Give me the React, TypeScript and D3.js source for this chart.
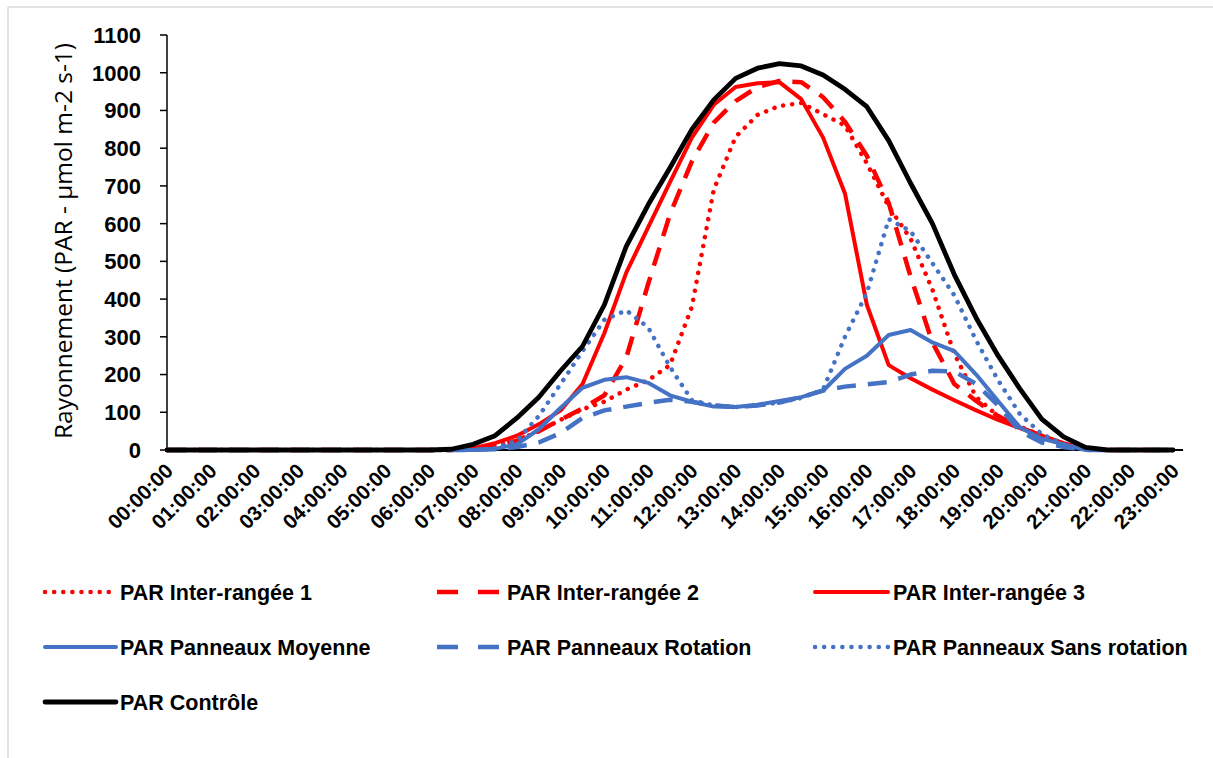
import React, { useEffect } from "react";
import * as d3 from "d3";

const hourLabels = [
  "00:00:00", "01:00:00", "02:00:00", "03:00:00", "04:00:00", "05:00:00",
  "06:00:00", "07:00:00", "08:00:00", "09:00:00", "10:00:00", "11:00:00",
  "12:00:00", "13:00:00", "14:00:00", "15:00:00", "16:00:00", "17:00:00",
  "18:00:00", "19:00:00", "20:00:00", "21:00:00", "22:00:00", "23:00:00",
];

const sampleTimes = [
  "00:00", "00:30", "01:00", "01:30", "02:00", "02:30", "03:00", "03:30",
  "04:00", "04:30", "05:00", "05:30", "06:00", "06:30", "07:00", "07:30",
  "08:00", "08:30", "09:00", "09:30", "10:00", "10:30", "11:00", "11:30",
  "12:00", "12:30", "13:00", "13:30", "14:00", "14:30", "15:00", "15:30",
  "16:00", "16:30", "17:00", "17:30", "18:00", "18:30", "19:00", "19:30",
  "20:00", "20:30", "21:00", "21:30", "22:00", "22:30", "23:00",
];

const yTicks = [0, 100, 200, 300, 400, 500, 600, 700, 800, 900, 1000, 1100];

// PAR Inter-rangée 1
const interRangee1 = [
  0, 0, 0, 0, 0, 0, 0, 0, 0, 0, 0, 0, 0, 0, 3, 10,
  25, 50, 80, 108, 128, 160, 185, 225, 380, 690, 830, 888, 912, 920, 890, 860,
  760, 645, 560, 425, 255, 140, 90, 62, 38, 15, 4, 0, 0, 0, 0,
];
// PAR Inter-rangée 2
const interRangee2 = [
  0, 0, 0, 0, 0, 0, 0, 0, 0, 0, 0, 0, 0, 0, 3, 10,
  25, 50, 80, 110, 145, 245, 440, 625, 765, 868, 925, 962, 978, 975, 935, 870,
  780, 655, 460, 285, 175, 130, 90, 60, 38, 15, 4, 0, 0, 0, 0,
];
// PAR Inter-rangée 3
const interRangee3 = [
  0, 0, 0, 0, 0, 0, 0, 0, 0, 0, 0, 0, 0, 0, 5, 18,
  38, 68, 105, 175, 310, 470, 590, 710, 828, 915, 962, 972, 975, 930, 828, 680,
  385, 225, 190, 160, 132, 105, 80, 58, 38, 18, 4, 0, 0, 0, 0,
];
// PAR Panneaux Moyenne
const panneauxMoyenne = [
  0, 0, 0, 0, 0, 0, 0, 0, 0, 0, 0, 0, 0, 0, 0, 3,
  15, 55, 112, 165, 186, 193, 178, 145, 128, 115, 114, 120, 130, 140, 157, 215,
  250, 305, 318, 285, 262, 200, 130, 60, 30, 15, 0, 0, 0, 0, 0,
];
// PAR Panneaux Rotation
const panneauxRotation = [
  0, 0, 0, 0, 0, 0, 0, 0, 0, 0, 0, 0, 0, 0, 0, 2,
  8, 20, 45, 85, 105, 115, 125, 133, 128, 118, 114, 118, 126, 140, 158, 168,
  174, 180, 200, 210, 208, 175, 118, 50, 20, 8, 0, 0, 0, 0, 0,
];
// PAR Panneaux Sans rotation
const panneauxSansRotation = [
  0, 0, 0, 0, 0, 0, 0, 0, 0, 0, 0, 0, 0, 0, 0, 5,
  25, 90, 175, 262, 345, 370, 325, 220, 132, 118, 114, 118, 126, 138, 160, 300,
  416, 612, 580, 495, 410, 290, 185, 95, 42, 15, 0, 0, 0, 0, 0,
];
// PAR Contrôle
const controle = [
  0, 0, 0, 0, 0, 0, 0, 0, 0, 0, 0, 0, 0, 2, 15, 38,
  85, 140, 210, 275, 385, 540, 650, 748, 850, 928, 985, 1012, 1024, 1018, 994, 956,
  910, 820, 707, 600, 465, 350, 250, 162, 82, 35, 7, 0, 0, 0, 0,
];

const RED = "#FF0000";
const BLUE = "#4472C4";
const BLACK = "#000000";

type Style = { color: string; width: number; dash: string | null; cap: "round" | "butt" };
const DOT: Omit<Style, "color"> = { width: 4.5, dash: "0.1 9", cap: "round" };
const DASH: Omit<Style, "color"> = { width: 4.5, dash: "19 12", cap: "butt" };
const SOLID: Omit<Style, "color"> = { width: 4, dash: null, cap: "round" };

const seriesList = [
  { name: "PAR Inter-rangée 1", values: interRangee1, style: { ...DOT, color: RED } },
  { name: "PAR Inter-rangée 2", values: interRangee2, style: { ...DASH, color: RED } },
  { name: "PAR Inter-rangée 3", values: interRangee3, style: { ...SOLID, color: RED } },
  { name: "PAR Panneaux Moyenne", values: panneauxMoyenne, style: { ...SOLID, color: BLUE } },
  { name: "PAR Panneaux Rotation", values: panneauxRotation, style: { ...DASH, color: BLUE } },
  { name: "PAR Panneaux Sans rotation", values: panneauxSansRotation, style: { ...DOT, color: BLUE } },
  { name: "PAR Contrôle", values: controle, style: { ...SOLID, width: 4.8, color: BLACK } },
];

const toHours = (t: string) => {
  const [h, m] = t.split(":").map(Number);
  return h + m / 60;
};

export default function App() {
  useEffect(() => {
    document.body.style.margin = "0";
  }, []);

  const W = 1213;
  const H = 758;
  const x0 = 167;
  const hourStep = 43.74;
  const x = d3.scaleLinear().domain([0, 23]).range([x0, x0 + hourStep * 23]);
  const y = d3.scaleLinear().domain([0, 1100]).range([450, 35]);
  const axisEnd = x(23.23);

  const line = d3
    .line<number>()
    .x((_, i) => x(toHours(sampleTimes[i])))
    .y((d) => y(d));

  const font = "'Liberation Sans', Arial, sans-serif";

  const legendRows = [592, 647, 702];
  const legendCols = [
    { lx1: 45, lx2: 116, tx: 120 },
    { lx1: 437, lx2: 500, tx: 507 },
    { lx1: 815, lx2: 888, tx: 893 },
  ];

  return (
    <svg
      width={W}
      height={H}
      style={{ position: "absolute", left: 0, top: 0, background: "#fff" }}
      fontFamily={font}
    >
      <rect x={0} y={0} width={W} height={H} fill="#fff" />
      {/* frame */}
      <line x1={8} y1={7} x2={W} y2={7} stroke="#d9d9d9" strokeWidth={1.5} />
      <line x1={8} y1={7} x2={8} y2={H} stroke="#d9d9d9" strokeWidth={1.5} />

      {/* y axis */}
      <line x1={x0} y1={y(1100)} x2={x0} y2={y(0)} stroke="#000" strokeWidth={1.5} />
      {yTicks.map((t) => (
        <g key={t}>
          <line x1={x0 - 7} x2={x0} y1={y(t)} y2={y(t)} stroke="#000" strokeWidth={1.5} />
          <text
            x={141}
            y={y(t)}
            dy="0.36em"
            textAnchor="end"
            fontSize={22}
            fontWeight="bold"
            fill="#000"
          >
            {t}
          </text>
        </g>
      ))}
      <text
        transform={`translate(72, 241) rotate(-90)`}
        textAnchor="middle"
        fontSize={24.5}
        fill="#000"
        fontFamily="'Open Sans', 'Liberation Sans', sans-serif"
      >
        Rayonnement (PAR - µmol m-2 s-1)
      </text>

      {/* x axis */}
      <line x1={x0} y1={y(0)} x2={axisEnd} y2={y(0)} stroke="#000" strokeWidth={2} />
      {hourLabels.map((lab, i) => (
        <text
          key={lab}
          transform={`translate(${x(i) + 2}, ${467}) rotate(-45)`}
          textAnchor="end"
          dy="0.36em"
          fontSize={20.5}
          fontWeight="bold"
          fill="#000"
        >
          {lab}
        </text>
      ))}

      {/* series */}
      {seriesList.map((s) => (
        <path
          key={s.name}
          d={line(s.values) || ""}
          fill="none"
          stroke={s.style.color}
          strokeWidth={s.style.width}
          strokeDasharray={s.style.dash || undefined}
          strokeLinecap={s.style.cap}
          strokeLinejoin="round"
        />
      ))}

      {/* legend */}
      {seriesList.map((s, i) => {
        const row = legendRows[Math.floor(i / 3)];
        const col = legendCols[i % 3];
        return (
          <g key={"lg" + s.name}>
            <line
              x1={col.lx1}
              x2={col.lx2}
              y1={row}
              y2={row}
              stroke={s.style.color}
              strokeWidth={s.style.width}
              strokeDasharray={s.style.dash ? (s.style.cap === "butt" ? "21 20" : s.style.dash) : undefined}
              strokeLinecap={s.style.cap}
            />
            <text x={col.tx} y={row} dy="0.36em" fontSize={21.5} fontWeight="bold" fill="#000">
              {s.name}
            </text>
          </g>
        );
      })}
    </svg>
  );
}
